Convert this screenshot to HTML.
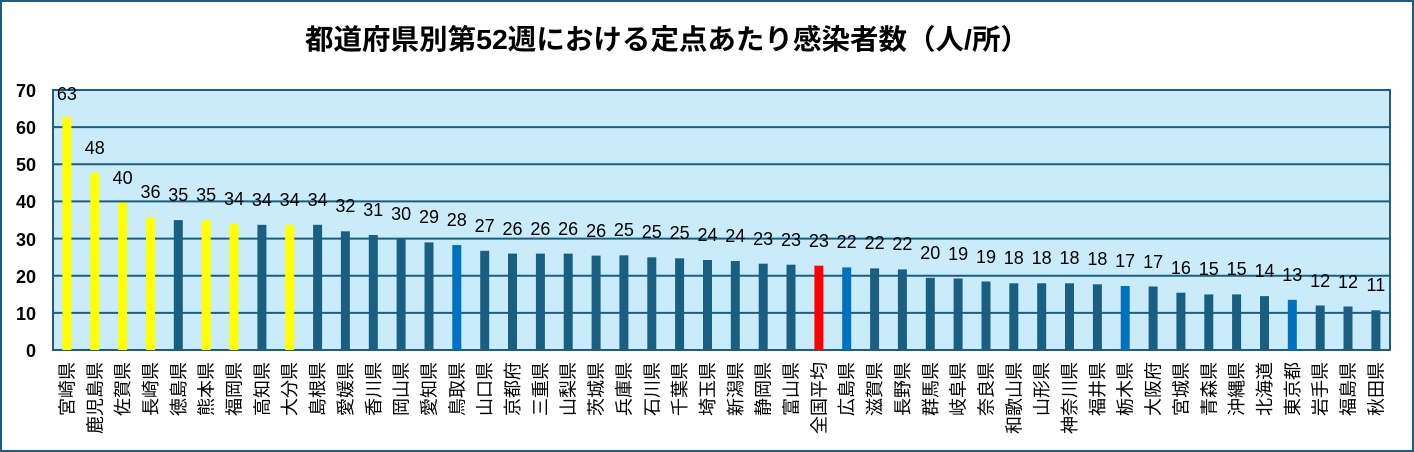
<!DOCTYPE html>
<html><head><meta charset="utf-8"><style>
body{margin:0;background:#fff;}
#w{position:relative;width:1414px;height:452px;overflow:hidden;}
</style></head><body><div id="w">
<svg width="1414" height="452" style="position:absolute;left:0;top:0" font-family="Liberation Sans, Noto Sans CJK JP, sans-serif">
<rect x="1" y="1" width="1412" height="450" fill="#fff" stroke="#1a5f82" stroke-width="2"/>
<text x="667" y="49" text-anchor="middle" font-size="28" font-weight="bold" fill="#000" textLength="724" lengthAdjust="spacingAndGlyphs">都道府県別第52週における定点あたり感染者数（人/所）</text>
<rect x="53" y="90" width="1337" height="260" fill="#caecfa"/>
<g stroke="#1a5f82" stroke-width="2">
<line x1="53" x2="1390" y1="127.1" y2="127.1"/><line x1="53" x2="1390" y1="164.3" y2="164.3"/><line x1="53" x2="1390" y1="201.4" y2="201.4"/><line x1="53" x2="1390" y1="238.6" y2="238.6"/><line x1="53" x2="1390" y1="275.7" y2="275.7"/><line x1="53" x2="1390" y1="312.9" y2="312.9"/>
</g>
<rect x="53" y="90" width="1337" height="260" fill="none" stroke="#1a5f82" stroke-width="2"/>
<g font-size="18" font-weight="bold" text-anchor="end" fill="#000">
<text x="36" y="97">70</text><text x="36" y="134">60</text><text x="36" y="171">50</text><text x="36" y="208">40</text><text x="36" y="246">30</text><text x="36" y="283">20</text><text x="36" y="320">10</text><text x="36" y="357">0</text>
</g>
<g>
<rect x="62.4" y="117.1" width="9" height="232.9" fill="#ffff00"/>
<rect x="90.3" y="172.8" width="9" height="177.2" fill="#ffff00"/>
<rect x="118.1" y="202.6" width="9" height="147.4" fill="#ffff00"/>
<rect x="146" y="217.4" width="9" height="132.6" fill="#ffff00"/>
<rect x="173.8" y="220.1" width="9" height="129.9" fill="#1a5f82"/>
<rect x="201.7" y="220.1" width="9" height="129.9" fill="#ffff00"/>
<rect x="229.5" y="223.8" width="9" height="126.2" fill="#ffff00"/>
<rect x="257.4" y="224.8" width="9" height="125.2" fill="#1a5f82"/>
<rect x="285.2" y="224.8" width="9" height="125.2" fill="#ffff00"/>
<rect x="313.1" y="224.8" width="9" height="125.2" fill="#1a5f82"/>
<rect x="340.9" y="231.3" width="9" height="118.7" fill="#1a5f82"/>
<rect x="368.8" y="235" width="9" height="115" fill="#1a5f82"/>
<rect x="396.6" y="238.7" width="9" height="111.3" fill="#1a5f82"/>
<rect x="424.5" y="242.4" width="9" height="107.6" fill="#1a5f82"/>
<rect x="452.3" y="245.1" width="9" height="104.9" fill="#0070c0"/>
<rect x="480.2" y="250.8" width="9" height="99.2" fill="#1a5f82"/>
<rect x="508" y="253.6" width="9" height="96.4" fill="#1a5f82"/>
<rect x="535.9" y="253.6" width="9" height="96.4" fill="#1a5f82"/>
<rect x="563.7" y="253.6" width="9" height="96.4" fill="#1a5f82"/>
<rect x="591.6" y="255.6" width="9" height="94.4" fill="#1a5f82"/>
<rect x="619.4" y="255.3" width="9" height="94.7" fill="#1a5f82"/>
<rect x="647.3" y="257.3" width="9" height="92.7" fill="#1a5f82"/>
<rect x="675.1" y="258.3" width="9" height="91.7" fill="#1a5f82"/>
<rect x="703" y="260" width="9" height="90" fill="#1a5f82"/>
<rect x="730.8" y="261" width="9" height="89" fill="#1a5f82"/>
<rect x="758.7" y="263.7" width="9" height="86.3" fill="#1a5f82"/>
<rect x="786.5" y="264.7" width="9" height="85.3" fill="#1a5f82"/>
<rect x="814.4" y="265.7" width="9" height="84.3" fill="#ff0000"/>
<rect x="842.2" y="267.4" width="9" height="82.6" fill="#0070c0"/>
<rect x="870.1" y="268.4" width="9" height="81.6" fill="#1a5f82"/>
<rect x="897.9" y="269.4" width="9" height="80.6" fill="#1a5f82"/>
<rect x="925.8" y="277.8" width="9" height="72.2" fill="#1a5f82"/>
<rect x="953.6" y="278.5" width="9" height="71.5" fill="#1a5f82"/>
<rect x="981.5" y="281.5" width="9" height="68.5" fill="#1a5f82"/>
<rect x="1009.3" y="283.3" width="9" height="66.7" fill="#1a5f82"/>
<rect x="1037.2" y="283.3" width="9" height="66.7" fill="#1a5f82"/>
<rect x="1065" y="283.3" width="9" height="66.7" fill="#1a5f82"/>
<rect x="1092.9" y="284.3" width="9" height="65.7" fill="#1a5f82"/>
<rect x="1120.7" y="286" width="9" height="64" fill="#0070c0"/>
<rect x="1148.6" y="286.5" width="9" height="63.5" fill="#1a5f82"/>
<rect x="1176.4" y="292.7" width="9" height="57.3" fill="#1a5f82"/>
<rect x="1204.3" y="294.4" width="9" height="55.6" fill="#1a5f82"/>
<rect x="1232.1" y="294.4" width="9" height="55.6" fill="#1a5f82"/>
<rect x="1260" y="296.1" width="9" height="53.9" fill="#1a5f82"/>
<rect x="1287.8" y="299.8" width="9" height="50.2" fill="#0070c0"/>
<rect x="1315.7" y="305.5" width="9" height="44.5" fill="#1a5f82"/>
<rect x="1343.5" y="306.5" width="9" height="43.5" fill="#1a5f82"/>
<rect x="1371.4" y="310.3" width="9" height="39.7" fill="#1a5f82"/>
</g>
<g font-size="18" text-anchor="middle" fill="#000">
<text x="66.9" y="100">63</text><text x="94.8" y="154">48</text><text x="122.6" y="184">40</text><text x="150.5" y="198">36</text><text x="178.3" y="201">35</text><text x="206.2" y="201">35</text><text x="234" y="205">34</text><text x="261.9" y="206">34</text><text x="289.7" y="206">34</text><text x="317.6" y="206">34</text><text x="345.4" y="212">32</text><text x="373.3" y="216">31</text><text x="401.1" y="220">30</text><text x="429" y="223">29</text><text x="456.8" y="226">28</text><text x="484.7" y="232">27</text><text x="512.5" y="235">26</text><text x="540.4" y="235">26</text><text x="568.2" y="235">26</text><text x="596.1" y="237">26</text><text x="623.9" y="236">25</text><text x="651.8" y="238">25</text><text x="679.6" y="239">25</text><text x="707.5" y="241">24</text><text x="735.3" y="242">24</text><text x="763.2" y="245">23</text><text x="791" y="246">23</text><text x="818.9" y="247">23</text><text x="846.7" y="248">22</text><text x="874.6" y="249">22</text><text x="902.4" y="250">22</text><text x="930.3" y="259">20</text><text x="958.1" y="260">19</text><text x="986" y="263">19</text><text x="1013.8" y="264">18</text><text x="1041.7" y="264">18</text><text x="1069.5" y="264">18</text><text x="1097.4" y="265">18</text><text x="1125.2" y="267">17</text><text x="1153.1" y="268">17</text><text x="1180.9" y="274">16</text><text x="1208.8" y="275">15</text><text x="1236.6" y="275">15</text><text x="1264.5" y="277">14</text><text x="1292.3" y="281">13</text><text x="1320.2" y="287">12</text><text x="1348" y="288">12</text><text x="1375.9" y="291">11</text>
</g>
<g font-size="18" text-anchor="end" fill="#000">
<text transform="translate(73.4,362) rotate(-90)">宮崎県</text><text transform="translate(101.3,362) rotate(-90)">鹿児島県</text><text transform="translate(129.1,362) rotate(-90)">佐賀県</text><text transform="translate(157,362) rotate(-90)">長崎県</text><text transform="translate(184.8,362) rotate(-90)">徳島県</text><text transform="translate(212.7,362) rotate(-90)">熊本県</text><text transform="translate(240.5,362) rotate(-90)">福岡県</text><text transform="translate(268.4,362) rotate(-90)">高知県</text><text transform="translate(296.2,362) rotate(-90)">大分県</text><text transform="translate(324.1,362) rotate(-90)">島根県</text><text transform="translate(351.9,362) rotate(-90)">愛媛県</text><text transform="translate(379.8,362) rotate(-90)">香川県</text><text transform="translate(407.6,362) rotate(-90)">岡山県</text><text transform="translate(435.5,362) rotate(-90)">愛知県</text><text transform="translate(463.3,362) rotate(-90)">鳥取県</text><text transform="translate(491.2,362) rotate(-90)">山口県</text><text transform="translate(519,362) rotate(-90)">京都府</text><text transform="translate(546.9,362) rotate(-90)">三重県</text><text transform="translate(574.7,362) rotate(-90)">山梨県</text><text transform="translate(602.6,362) rotate(-90)">茨城県</text><text transform="translate(630.4,362) rotate(-90)">兵庫県</text><text transform="translate(658.3,362) rotate(-90)">石川県</text><text transform="translate(686.1,362) rotate(-90)">千葉県</text><text transform="translate(714,362) rotate(-90)">埼玉県</text><text transform="translate(741.8,362) rotate(-90)">新潟県</text><text transform="translate(769.7,362) rotate(-90)">静岡県</text><text transform="translate(797.5,362) rotate(-90)">富山県</text><text transform="translate(825.4,362) rotate(-90)">全国平均</text><text transform="translate(853.2,362) rotate(-90)">広島県</text><text transform="translate(881.1,362) rotate(-90)">滋賀県</text><text transform="translate(908.9,362) rotate(-90)">長野県</text><text transform="translate(936.8,362) rotate(-90)">群馬県</text><text transform="translate(964.6,362) rotate(-90)">岐阜県</text><text transform="translate(992.5,362) rotate(-90)">奈良県</text><text transform="translate(1020.3,362) rotate(-90)">和歌山県</text><text transform="translate(1048.2,362) rotate(-90)">山形県</text><text transform="translate(1076,362) rotate(-90)">神奈川県</text><text transform="translate(1103.9,362) rotate(-90)">福井県</text><text transform="translate(1131.7,362) rotate(-90)">栃木県</text><text transform="translate(1159.6,362) rotate(-90)">大阪府</text><text transform="translate(1187.4,362) rotate(-90)">宮城県</text><text transform="translate(1215.3,362) rotate(-90)">青森県</text><text transform="translate(1243.1,362) rotate(-90)">沖縄県</text><text transform="translate(1271,362) rotate(-90)">北海道</text><text transform="translate(1298.8,362) rotate(-90)">東京都</text><text transform="translate(1326.7,362) rotate(-90)">岩手県</text><text transform="translate(1354.5,362) rotate(-90)">福島県</text><text transform="translate(1382.4,362) rotate(-90)">秋田県</text>
</g>
</svg>
</div></body></html>
